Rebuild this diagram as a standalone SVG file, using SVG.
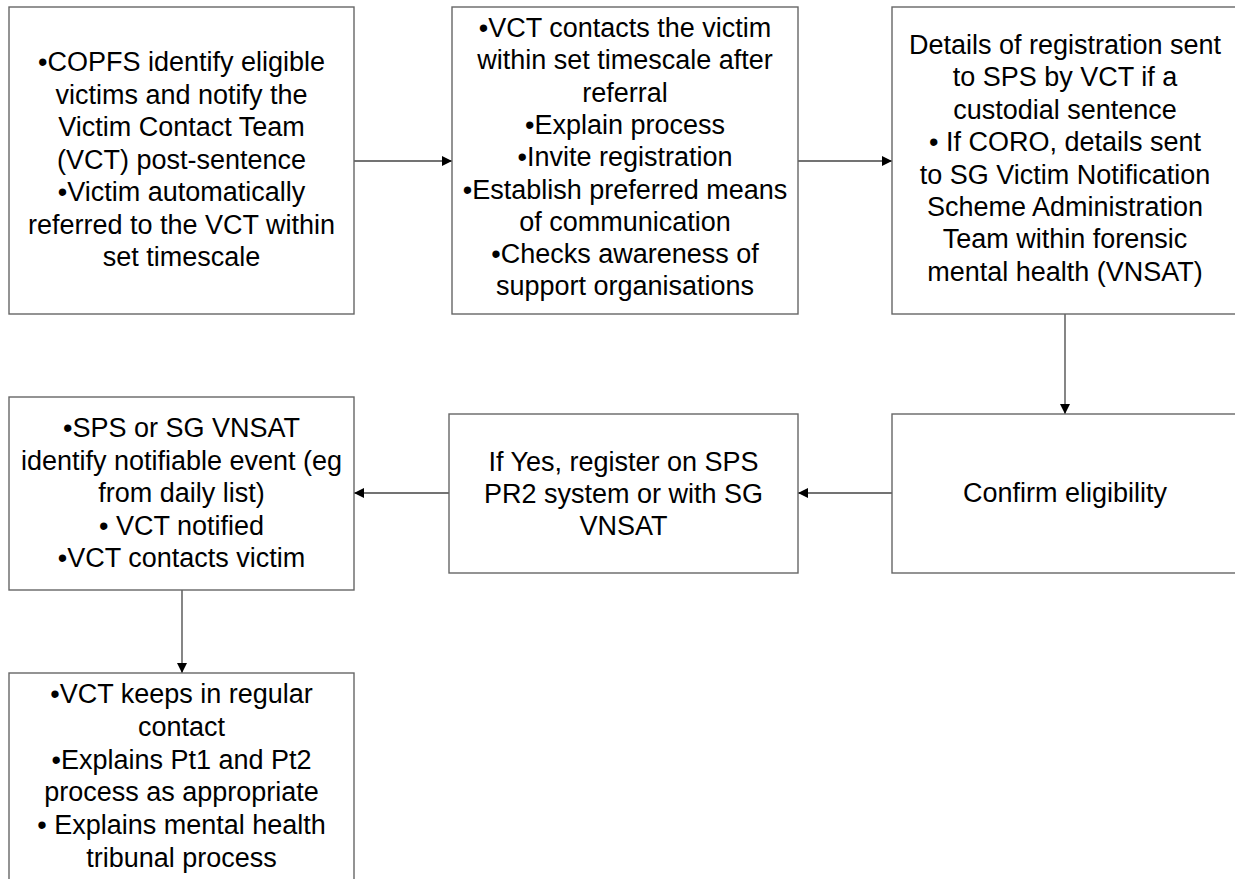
<svg xmlns="http://www.w3.org/2000/svg" width="1235" height="879" viewBox="0 0 1235 879">
<defs>
<style>
.box{fill:#fff;stroke:#666;stroke-width:1.4}
.t{font-family:"Liberation Sans",Arial,sans-serif;font-size:27px;fill:#000;text-anchor:middle}
.c{fill:none;stroke:#444;stroke-width:1.3}
</style>
<marker id="ah" viewBox="0 0 10 10" refX="10" refY="5" markerWidth="10" markerHeight="10" markerUnits="userSpaceOnUse" orient="auto">
<path d="M0,0 L10,5 L0,10 Z" fill="#000"/>
</marker>
</defs>
<rect width="1235" height="879" fill="#fff"/>

<g id="connectors">
<line class="c" x1="354" y1="161" x2="452" y2="161" marker-end="url(#ah)"/>
<line class="c" x1="798" y1="161" x2="892" y2="161" marker-end="url(#ah)"/>
<line class="c" x1="1065" y1="314" x2="1065" y2="414" marker-end="url(#ah)"/>
<line class="c" x1="892" y1="493" x2="798" y2="493" marker-end="url(#ah)"/>
<line class="c" x1="449" y1="493" x2="354" y2="493" marker-end="url(#ah)"/>
<line class="c" x1="182" y1="590" x2="182" y2="673" marker-end="url(#ah)"/>
</g>

<g id="node-copfs">
<rect class="box" x="9" y="7" width="345" height="307"/>
<text class="t" x="181.5" y="71">•COPFS identify eligible</text>
<text class="t" x="181.5" y="103.5">victims and notify the</text>
<text class="t" x="181.5" y="136">Victim Contact Team</text>
<text class="t" x="181.5" y="168.5">(VCT) post-sentence</text>
<text class="t" x="181.5" y="201">•Victim automatically</text>
<text class="t" x="181.5" y="233.5">referred to the VCT within</text>
<text class="t" x="181.5" y="266">set timescale</text>
</g>

<g id="node-vct-contacts">
<rect class="box" x="452" y="7" width="346" height="307"/>
<text class="t" x="625" y="37">•VCT contacts the victim</text>
<text class="t" x="625" y="69.3">within set timescale after</text>
<text class="t" x="625" y="101.6">referral</text>
<text class="t" x="625" y="133.9">•Explain process</text>
<text class="t" x="625" y="166.2">•Invite registration</text>
<text class="t" x="625" y="198.5">•Establish preferred means</text>
<text class="t" x="625" y="230.8">of communication</text>
<text class="t" x="625" y="263.1">•Checks awareness of</text>
<text class="t" x="625" y="295.4">support organisations</text>
</g>

<g id="node-details">
<rect class="box" x="892" y="7" width="350" height="307"/>
<text class="t" x="1065" y="54">Details of registration sent</text>
<text class="t" x="1065" y="86.4">to SPS by VCT if a</text>
<text class="t" x="1065" y="118.8">custodial sentence</text>
<text class="t" x="1065" y="151.2">• If CORO, details sent</text>
<text class="t" x="1065" y="183.6">to SG Victim Notification</text>
<text class="t" x="1065" y="216">Scheme Administration</text>
<text class="t" x="1065" y="248.4">Team within forensic</text>
<text class="t" x="1065" y="280.8">mental health (VNSAT)</text>
</g>

<g id="node-confirm">
<rect class="box" x="892" y="414" width="350" height="159"/>
<text class="t" x="1065" y="502">Confirm eligibility</text>
</g>

<g id="node-register">
<rect class="box" x="449" y="414" width="349" height="159"/>
<text class="t" x="623.5" y="471">If Yes, register on SPS</text>
<text class="t" x="623.5" y="503">PR2 system or with SG</text>
<text class="t" x="623.5" y="535">VNSAT</text>
</g>

<g id="node-notifiable">
<rect class="box" x="9" y="397" width="345" height="193"/>
<text class="t" x="181.5" y="437">•SPS or SG VNSAT</text>
<text class="t" x="181.5" y="469.5">identify notifiable event (eg</text>
<text class="t" x="181.5" y="502">from daily list)</text>
<text class="t" x="181.5" y="534.5">• VCT notified</text>
<text class="t" x="181.5" y="567">•VCT contacts victim</text>
</g>

<g id="node-regular-contact">
<rect class="box" x="9" y="673" width="345" height="215"/>
<text class="t" x="181.5" y="703">•VCT keeps in regular</text>
<text class="t" x="181.5" y="735.8">contact</text>
<text class="t" x="181.5" y="768.6">•Explains Pt1 and Pt2</text>
<text class="t" x="181.5" y="801.4">process as appropriate</text>
<text class="t" x="181.5" y="834.2">• Explains mental health</text>
<text class="t" x="181.5" y="867">tribunal process</text>
</g>
</svg>
